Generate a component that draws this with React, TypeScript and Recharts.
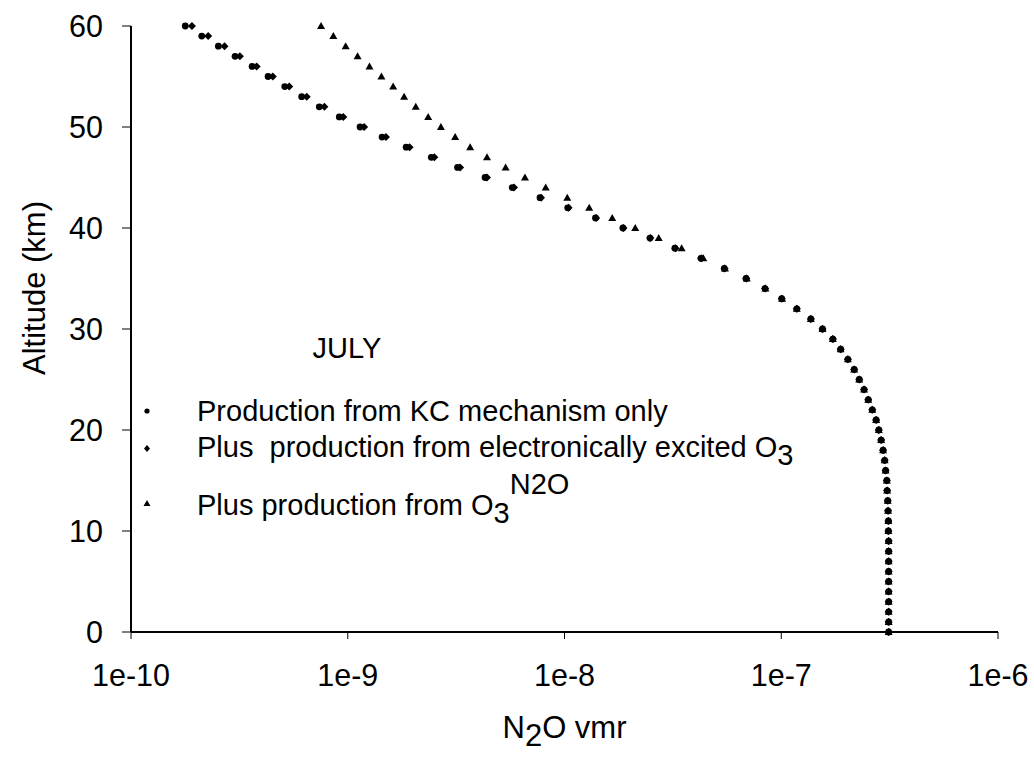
import React from 'react';
import { ScatterChart, Scatter, XAxis, YAxis, Legend } from 'recharts';

const altitudes = [
  0, 1, 2, 3, 4, 5, 6, 7, 8, 9, 10, 11, 12, 13, 14, 15, 16, 17, 18, 19, 20,
  21, 22, 23, 24, 25, 26, 27, 28, 29, 30, 31, 32, 33, 34, 35, 36, 37, 38, 39, 40,
  41, 42, 43, 44, 45, 46, 47, 48, 49, 50, 51, 52, 53, 54, 55, 56, 57, 58, 59, 60,
];

// Production from KC mechanism only (circles)
const kcOnly = [
  3.13e-7, 3.13e-7, 3.13e-7, 3.13e-7, 3.13e-7, 3.13e-7, 3.13e-7, 3.13e-7, 3.13e-7, 3.13e-7,
  3.12e-7, 3.12e-7, 3.11e-7, 3.10e-7, 3.08e-7, 3.07e-7, 3.03e-7, 3.00e-7, 2.95e-7, 2.89e-7,
  2.82e-7, 2.74e-7, 2.63e-7, 2.52e-7, 2.41e-7, 2.29e-7, 2.17e-7, 2.03e-7, 1.88e-7, 1.73e-7,
  1.55e-7, 1.37e-7, 1.18e-7, 1.005e-7, 8.41e-8, 6.88e-8, 5.46e-8, 4.26e-8, 3.23e-8, 2.48e-8,
  1.86e-8, 1.39e-8, 1.035e-8, 7.71e-9, 5.74e-9, 4.30e-9, 3.21e-9, 2.43e-9, 1.86e-9, 1.44e-9,
  1.14e-9, 9.14e-10, 7.39e-10, 6.13e-10, 5.12e-10, 4.29e-10, 3.62e-10, 3.02e-10, 2.53e-10, 2.12e-10,
  1.78e-10,
];

// Plus production from electronically excited O3 (diamonds)
const excitedO3 = [
  3.13e-7, 3.13e-7, 3.13e-7, 3.13e-7, 3.13e-7, 3.13e-7, 3.13e-7, 3.13e-7, 3.13e-7, 3.13e-7,
  3.12e-7, 3.12e-7, 3.11e-7, 3.10e-7, 3.08e-7, 3.07e-7, 3.03e-7, 3.00e-7, 2.95e-7, 2.89e-7,
  2.82e-7, 2.74e-7, 2.63e-7, 2.52e-7, 2.41e-7, 2.29e-7, 2.17e-7, 2.03e-7, 1.88e-7, 1.73e-7,
  1.55e-7, 1.37e-7, 1.18e-7, 1.006e-7, 8.43e-8, 6.90e-8, 5.48e-8, 4.28e-8, 3.25e-8, 2.49e-8,
  1.87e-8, 1.40e-8, 1.044e-8, 7.79e-9, 5.85e-9, 4.39e-9, 3.30e-9, 2.51e-9, 1.93e-9, 1.50e-9,
  1.19e-9, 9.54e-10, 7.80e-10, 6.47e-10, 5.37e-10, 4.51e-10, 3.80e-10, 3.18e-10, 2.70e-10, 2.27e-10,
  1.91e-10,
];

// Plus production from O3 N2O (triangles)
const o3N2O = [
  3.13e-7, 3.13e-7, 3.13e-7, 3.13e-7, 3.13e-7, 3.13e-7, 3.13e-7, 3.13e-7, 3.13e-7, 3.13e-7,
  3.12e-7, 3.12e-7, 3.11e-7, 3.10e-7, 3.08e-7, 3.07e-7, 3.03e-7, 3.00e-7, 2.95e-7, 2.89e-7,
  2.82e-7, 2.74e-7, 2.63e-7, 2.52e-7, 2.41e-7, 2.29e-7, 2.17e-7, 2.03e-7, 1.88e-7, 1.73e-7,
  1.55e-7, 1.37e-7, 1.18e-7, 1.01e-7, 8.45e-8, 6.93e-8, 5.50e-8, 4.37e-8, 3.47e-8, 2.72e-8,
  2.12e-8, 1.66e-8, 1.30e-8, 1.03e-8, 8.19e-9, 6.57e-9, 5.35e-9, 4.39e-9, 3.67e-9, 3.13e-9,
  2.69e-9, 2.35e-9, 2.06e-9, 1.82e-9, 1.62e-9, 1.43e-9, 1.26e-9, 1.11e-9, 9.78e-10, 8.58e-10,
  7.53e-10,
];

const xTicks = [1e-10, 1e-9, 1e-8, 1e-7, 1e-6];
const xTickLabels = ['1e-10', '1e-9', '1e-8', '1e-7', '1e-6'];
const yTicks = [0, 10, 20, 30, 40, 50, 60];
const monthLabel = 'JULY';
const seriesNames = [
  'Production from KC mechanism only',
  'Plus  production from electronically excited O',
  'Plus production from O',
];

const FONT = '"Liberation Sans", Arial, sans-serif';
const FS = 29;
const TICK_FS = 30.5;
const TITLE_FS = 31;

const toPoints = (vals: number[]) => altitudes.map((a, i) => ({ x: vals[i], y: a }));

const CircleShape = (p: any) => <circle cx={p.cx} cy={p.cy} r={3.4} fill="#000" />;
const DiamondShape = (p: any) => (
  <polygon
    points={`${p.cx},${p.cy - 4} ${p.cx + 4},${p.cy} ${p.cx},${p.cy + 4} ${p.cx - 4},${p.cy}`}
    fill="#000"
  />
);
const TriangleShape = (p: any) => (
  <polygon
    points={`${p.cx},${p.cy - 4} ${p.cx + 4},${p.cy + 3} ${p.cx - 4},${p.cy + 3}`}
    fill="#000"
  />
);

const LegendBox = () => (
  <svg width={1034} height={762} style={{ position: 'absolute', left: 0, top: 0 }}>
    <g fontFamily={FONT} fontSize={FS} fill="#000">
      <text x={347} y={358} textAnchor="middle">{monthLabel}</text>
      <circle cx={147} cy={411} r={2.6} fill="#000" />
      <text x={197} y={421}>{seriesNames[0]}</text>
      <polygon points="147,445 150,448.5 147,452 144,448.5" fill="#000" />
      <text x={197} y={456.5} style={{ whiteSpace: 'pre' }}>
        {seriesNames[1]}
        <tspan dy={8}>3</tspan>
      </text>
      <polygon points="147,500 150.5,506 143.5,506" fill="#000" />
      <text x={197} y={515}>
        {seriesNames[2]}
        <tspan dy={8}>3</tspan>
        <tspan dy={-29}>N2O</tspan>
      </text>
    </g>
  </svg>
);

const XTitle = (props: any) => {
  const vb = props.viewBox;
  const cx = vb.x + vb.width / 2;
  return (
    <text x={cx} y={738} textAnchor="middle" fontFamily={FONT} fontSize={TITLE_FS} fill="#000">
      N<tspan dy={8}>2</tspan><tspan dy={-8}>O vmr</tspan>
    </text>
  );
};

const YTitle = (props: any) => {
  const vb = props.viewBox;
  const cy = vb.y + vb.height / 2 - 41;
  return (
    <text
      x={0}
      y={0}
      transform={`translate(45, ${cy}) rotate(-90)`}
      textAnchor="middle"
      fontFamily={FONT}
      fontSize={TITLE_FS}
      fill="#000"
    >
      Altitude (km)
    </text>
  );
};

export default function App() {
  return (
    <div style={{ width: 1034, height: 762, background: '#fff' }}>
      <style>{`body{margin:0;background:#fff}`}</style>
      <ScatterChart
        width={1034}
        height={762}
        margin={{ top: 26, right: 36, bottom: 70, left: 40 }}
        style={{ fontFamily: FONT }}
      >
        <XAxis
          type="number"
          dataKey="x"
          scale="log"
          domain={[1e-10, 1e-6]}
          ticks={xTicks}
          allowDataOverflow
          height={60}
          tickSize={7}
          tickMargin={25}
          axisLine={{ stroke: '#000', strokeWidth: 2 }}
          tickLine={{ stroke: '#000', strokeWidth: 1 }}
          tick={{ fill: '#000', fontSize: TICK_FS, fontFamily: FONT }}
          tickFormatter={(v: number) => xTickLabels[xTicks.findIndex((t) => Math.abs(Math.log10(t) - Math.log10(v)) < 1e-6)] ?? ''}
          label={<XTitle />}
          interval={0}
        />
        <YAxis
          type="number"
          dataKey="y"
          domain={[0, 60]}
          ticks={yTicks}
          width={91}
          tickSize={9}
          tickMargin={19}
          axisLine={{ stroke: '#000', strokeWidth: 2 }}
          tickLine={{ stroke: '#000', strokeWidth: 1 }}
          tick={{ fill: '#000', fontSize: TICK_FS, fontFamily: FONT }}
          label={<YTitle />}
          interval={0}
        />
        <Legend
          layout="vertical"
          align="center"
          verticalAlign="middle"
          wrapperStyle={{ left: 0, top: 0, width: 1034, height: 762, pointerEvents: 'none' }}
          content={() => <LegendBox />}
        />
        <Scatter name="kc" data={toPoints(kcOnly)} shape={CircleShape} isAnimationActive={false} />
        <Scatter name="excited" data={toPoints(excitedO3)} shape={DiamondShape} isAnimationActive={false} />
        <Scatter name="o3n2o" data={toPoints(o3N2O)} shape={TriangleShape} isAnimationActive={false} />
      </ScatterChart>
    </div>
  );
}
